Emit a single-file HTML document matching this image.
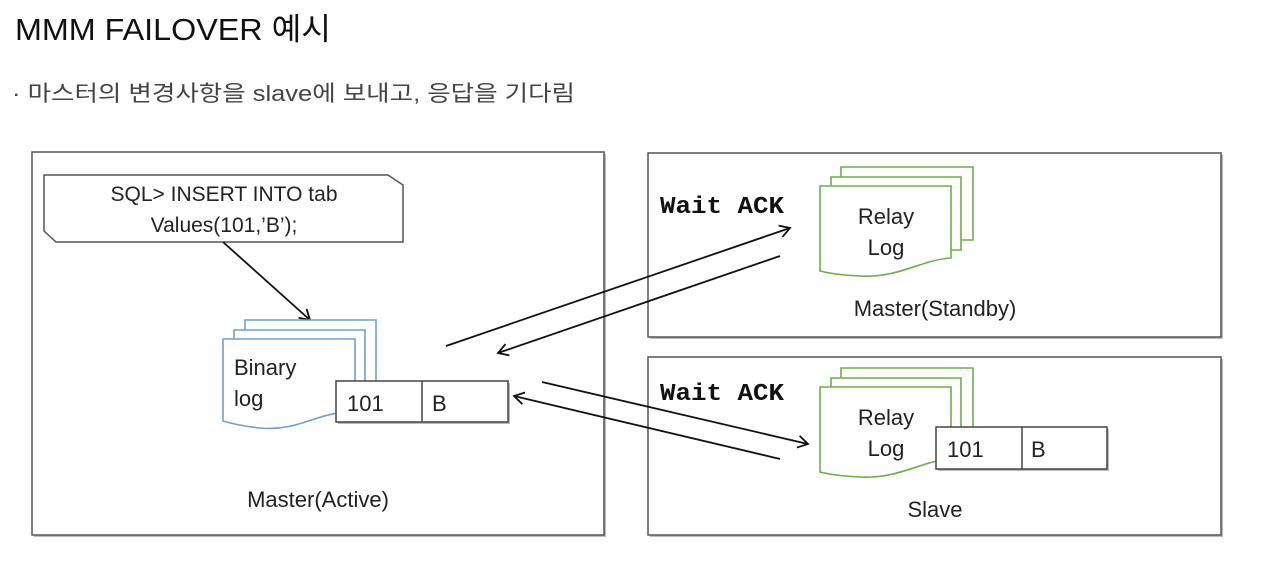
<!DOCTYPE html>
<html><head><meta charset="utf-8"><style>
html,body{margin:0;padding:0;background:#fff;width:1280px;height:568px;overflow:hidden}
svg text{font-family:"Liberation Sans","Noto Sans CJK KR",sans-serif;fill:#222}
</style></head><body>
<svg width="1280" height="568" viewBox="0 0 1280 568" xmlns="http://www.w3.org/2000/svg">
<defs>
<marker id="ah" markerWidth="14" markerHeight="14" refX="12" refY="7" orient="auto" markerUnits="userSpaceOnUse">
<path d="M2,1 L12,7 L2,13" fill="none" stroke="#111" stroke-width="1.8"/>
</marker>
</defs>
<text x="15" y="40" font-size="31" textLength="316" lengthAdjust="spacingAndGlyphs" style="fill:#111">MMM FAILOVER 예시</text>
<text x="12" y="101" font-size="22" textLength="563" lengthAdjust="spacingAndGlyphs" style="fill:#444">· 마스터의 변경사항을 slave에 보내고, 응답을 기다림</text>

<g fill="#fff" stroke="#555" stroke-width="1.5">
<rect x="34" y="154" width="572" height="383" fill="#bbb" stroke="none"/>
<rect x="32" y="152" width="572" height="383"/>
<rect x="650" y="155" width="573" height="184" fill="#bbb" stroke="none"/>
<rect x="648" y="153" width="573" height="184"/>
<rect x="650" y="359" width="573" height="178" fill="#bbb" stroke="none"/>
<rect x="648" y="357" width="573" height="178"/>
</g>

<path d="M44,175 H388 L403,185 V242 H56 L44,231 Z" fill="#fff" stroke="#555" stroke-width="1.5"/>
<text x="224" y="201" font-size="21" text-anchor="middle">SQL&gt; INSERT INTO tab</text>
<text x="224" y="232" font-size="21" text-anchor="middle">Values(101,’B’);</text>
<line x1="223" y1="242" x2="310" y2="320" stroke="#111" stroke-width="1.8" marker-end="url(#ah)"/>

<g fill="#fff" stroke="#6fa0cc" stroke-width="1.6">
<path d="M245,320 H376 V400 H245 Z"/>
<path d="M234,330 H365 V410 H234 Z"/>
<path d="M223,339 H355 V412 C320,410 300,432 260,428 C240,426 230,423 223,421 Z"/>
</g>
<text x="234" y="375" font-size="22">Binary</text>
<text x="234" y="406" font-size="22">log</text>
<g fill="#fff" stroke="#444" stroke-width="1.5">
<rect x="338" y="383" width="172" height="41" fill="#bbb" stroke="none"/>
<rect x="336" y="381" width="172" height="41"/>
<line x1="422" y1="381" x2="422" y2="422"/>
</g>
<text x="347" y="411" font-size="22">101</text>
<text x="432" y="411" font-size="22">B</text>
<text x="318" y="507" font-size="22" text-anchor="middle">Master(Active)</text>

<g stroke="#111" stroke-width="1.8">
<line x1="446" y1="346" x2="790" y2="228" marker-end="url(#ah)"/>
<line x1="780" y1="256" x2="498" y2="353" marker-end="url(#ah)"/>
<line x1="542" y1="382" x2="808" y2="444" marker-end="url(#ah)"/>
<line x1="780" y1="459" x2="514" y2="396" marker-end="url(#ah)"/>
</g>

<text x="660" y="213" font-size="24" font-weight="bold" textLength="124" lengthAdjust="spacingAndGlyphs" style="font-family:'Liberation Mono',monospace;fill:#111">Wait ACK</text>
<g fill="#fff" stroke="#6cae4a" stroke-width="1.6">
<path d="M841,167 H973 V240 H841 Z"/>
<path d="M831,177 H961 V250 H831 Z"/>
<path d="M820,186 H951 V258 C920,260 900,278 860,276 C840,275 828,273 820,271 Z"/>
</g>
<text x="886" y="224" font-size="22" text-anchor="middle">Relay</text>
<text x="886" y="255" font-size="22" text-anchor="middle">Log</text>
<text x="935" y="316" font-size="22" text-anchor="middle">Master(Standby)</text>

<text x="660" y="400" font-size="24" font-weight="bold" textLength="124" lengthAdjust="spacingAndGlyphs" style="font-family:'Liberation Mono',monospace;fill:#111">Wait ACK</text>
<g fill="#fff" stroke="#6cae4a" stroke-width="1.6">
<path d="M841,368 H973 V440 H841 Z"/>
<path d="M831,378 H961 V450 H831 Z"/>
<path d="M820,387 H951 V459 C920,461 900,479 860,477 C840,476 828,474 820,472 Z"/>
</g>
<text x="886" y="425" font-size="22" text-anchor="middle">Relay</text>
<text x="886" y="456" font-size="22" text-anchor="middle">Log</text>
<g fill="#fff" stroke="#444" stroke-width="1.5">
<rect x="938" y="429" width="171" height="42" fill="#bbb" stroke="none"/>
<rect x="936" y="427" width="171" height="42"/>
<line x1="1022" y1="427" x2="1022" y2="469"/>
</g>
<text x="947" y="457" font-size="22">101</text>
<text x="1031" y="457" font-size="22">B</text>
<text x="935" y="517" font-size="22" text-anchor="middle">Slave</text>
</svg>
</body></html>
